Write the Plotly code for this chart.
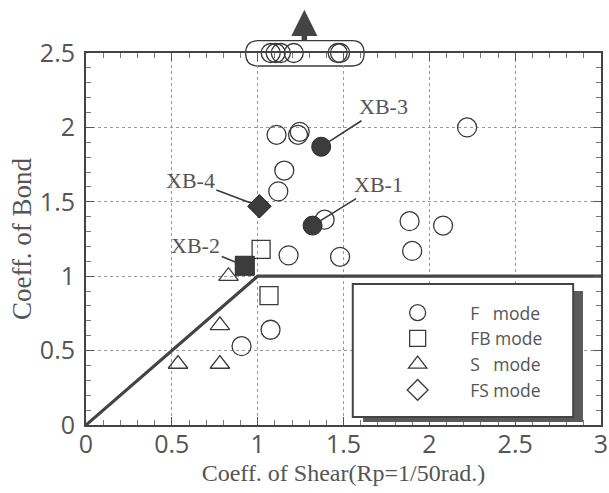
import plotly.graph_objects as go

# ---- data ----
f_x = [1.11, 1.245, 1.235, 2.22, 1.155, 1.12, 1.39, 1.885, 2.08, 1.18, 1.48, 1.90, 1.075, 0.906]
f_y = [1.95, 1.97, 1.95, 2.00, 1.71, 1.57, 1.38, 1.37, 1.34, 1.14, 1.13, 1.17, 0.64, 0.53]
f_top_x = [1.076, 1.105, 1.135, 1.21, 1.466, 1.48]
f_top_y = [2.5, 2.5, 2.5, 2.5, 2.5, 2.5]
f_fill_x = [1.32, 1.37]
f_fill_y = [1.34, 1.87]
fb_x = [1.02, 1.066]
fb_y = [1.18, 0.87]
fb_fill_x = [0.925]
fb_fill_y = [1.07]
s_x = [0.83, 0.78, 0.536, 0.78]
s_y = [1.00, 0.67, 0.41, 0.41]
fs_x = [1.01]
fs_y = [1.47]
bound_x = [0, 1, 3]
bound_y = [0, 1, 1]
labels = ["XB-1", "XB-2", "XB-3", "XB-4"]
label_x = [1.32, 0.925, 1.37, 1.01]
label_y = [1.34, 1.07, 1.87, 1.47]
label_off = [(66, -41), (-49, -20), (62, -40), (-69, -26)]
x_ticks = [0, 0.5, 1, 1.5, 2, 2.5, 3]
x_ticktext = ["0", "0.5", "1", "1.5", "2", "2.5", "3"]
y_ticks = [0, 0.5, 1, 1.5, 2, 2.5]
y_ticktext = ["0", "0.5", "1", "1.5", "2", "2.5"]

INK = "#3a3a3a"
TXT = "#555555"
SERIF = "Liberation Serif, Times New Roman, serif"
SANS = "Open Sans, Noto Sans, sans-serif"
NB = "\u00a0"

fig = go.Figure()

fig.add_trace(go.Scatter(x=bound_x, y=bound_y, mode="lines",
                         line=dict(color="#444444", width=3.2),
                         showlegend=False, hoverinfo="skip", cliponaxis=False))

fig.add_trace(go.Scatter(x=f_x + f_top_x, y=f_y + f_top_y, mode="markers",
                         name="F" + NB * 3 + "mode",
                         marker=dict(symbol="circle-open", size=19,
                                     line=dict(color=INK, width=1.3), color=INK),
                         cliponaxis=False))
fig.add_trace(go.Scatter(x=fb_x, y=fb_y, mode="markers", name="FB" + NB + "mode",
                         marker=dict(symbol="square-open", size=18,
                                     line=dict(color=INK, width=1.3), color=INK),
                         cliponaxis=False))
fig.add_trace(go.Scatter(x=s_x, y=s_y, mode="markers", name="S" + NB * 3 + "mode",
                         marker=dict(symbol="triangle-up-open", size=17,
                                     line=dict(color=INK, width=1.3), color=INK),
                         cliponaxis=False))
fig.add_trace(go.Scatter(x=fs_x, y=fs_y, mode="markers", name="FS" + NB + "mode",
                         marker=dict(symbol="diamond-open", size=17,
                                     line=dict(color=INK, width=1.3), color=INK),
                         cliponaxis=False))
# filled specimens
fig.add_trace(go.Scatter(x=f_fill_x, y=f_fill_y, mode="markers", showlegend=False,
                         marker=dict(symbol="circle", size=19, color="#3c3c3c",
                                     line=dict(color="#2a2a2a", width=1)),
                         cliponaxis=False))
fig.add_trace(go.Scatter(x=fb_fill_x, y=fb_fill_y, mode="markers", showlegend=False,
                         marker=dict(symbol="square", size=19, color="#3c3c3c",
                                     line=dict(color="#2a2a2a", width=1)),
                         cliponaxis=False))
fig.add_trace(go.Scatter(x=fs_x, y=fs_y, mode="markers", showlegend=False,
                         marker=dict(symbol="diamond", size=18, color="#3c3c3c",
                                     line=dict(color="#2a2a2a", width=1)),
                         cliponaxis=False))

annotations = []
for t, x, y, (ax, ay) in zip(labels, label_x, label_y, label_off):
    annotations.append(dict(x=x, y=y, xref="x", yref="y", text=t, showarrow=True,
                            ax=ax, ay=ay, arrowhead=0, arrowwidth=1.6, arrowcolor=INK,
                            standoff=7, font=dict(family=SERIF, size=22, color=TXT)))

# upward arrow above the off-scale group
arr_x = (min(f_top_x) + max(f_top_x)) / 2 - 0.006
annotations.append(dict(x=arr_x, y=1.116, xref="x", yref="paper", ax=0, ay=32,
                        showarrow=True, text="",
                        arrowhead=2, arrowsize=0.95, arrowwidth=5.5, arrowcolor="#444444"))

# rounded rectangle around the off-scale group (x in data, y in paper)
x0 = min(f_top_x) - 0.146
x1 = max(f_top_x) + 0.14
yb, yt = 0.965, 1.033
rx, ry = 0.07, 0.034
path = (f"M {x0+rx},{yt} L {x1-rx},{yt} Q {x1},{yt} {x1},{yt-ry} "
        f"L {x1},{yb+ry} Q {x1},{yb} {x1-rx},{yb} L {x0+rx},{yb} "
        f"Q {x0},{yb} {x0},{yb+ry} L {x0},{yt-ry} Q {x0},{yt} {x0+rx},{yt} Z")

shapes = [
    dict(type="path", path=path, xref="x", yref="paper",
         line=dict(color=INK, width=1.3), layer="below"),
    # legend shadow and box
    dict(type="rect", xref="paper", yref="paper", x0=0.538, x1=0.965, y0=0.008, y1=0.360,
         fillcolor="#5a5a5a", line=dict(width=0), layer="above"),
    dict(type="rect", xref="paper", yref="paper", x0=0.518, x1=0.946, y0=0.0215, y1=0.379,
         fillcolor="white", line=dict(color="#444444", width=2), layer="above"),
]

axis_common = dict(showline=True, linecolor="#444444", linewidth=2, mirror="ticks",
                   ticks="inside", ticklen=8, tickwidth=1.3, tickcolor="#555555",
                   showgrid=True, gridcolor="#999999", griddash="dot", gridwidth=1,
                   zeroline=False, automargin=False,
                   minor=dict(ticks="inside", ticklen=5, tickwidth=1, tickcolor="#777777",
                              dtick=0.1, showgrid=False),
                   tickfont=dict(family=SANS, size=25, color=TXT))

fig.update_layout(
    width=609, height=493,
    margin=dict(l=86, r=8, t=53, b=68),
    paper_bgcolor="white", plot_bgcolor="white",
    xaxis=dict(range=[0, 3], tickvals=x_ticks, ticktext=x_ticktext,
               ticklabelstandoff=-4,
               title=dict(text="Coeff. of Shear(Rp=1/50rad.)", standoff=0,
                          font=dict(family=SERIF, size=24, color=TXT)),
               **axis_common),
    yaxis=dict(range=[0, 2.5], tickvals=y_ticks, ticktext=y_ticktext,
               title=dict(text="Coeff. of Bond", standoff=0,
                          font=dict(family=SERIF, size=27, color=TXT)),
               ticklabelstandoff=4,
               **axis_common),
    legend=dict(x=0.542, y=0.35, xanchor="left", yanchor="top",
                bgcolor="rgba(0,0,0,0)", borderwidth=0, itemwidth=95,
                font=dict(family=SANS, size=17.5, color=TXT)),
    annotations=annotations,
    shapes=shapes,
    showlegend=True,
)

# remove the default page margin so the 609x493 figure fills the window exactly
fig.write_html("out.html", config={"displayModeBar": False},
               post_script="document.body.style.margin='0px';document.body.style.overflow='hidden';")
